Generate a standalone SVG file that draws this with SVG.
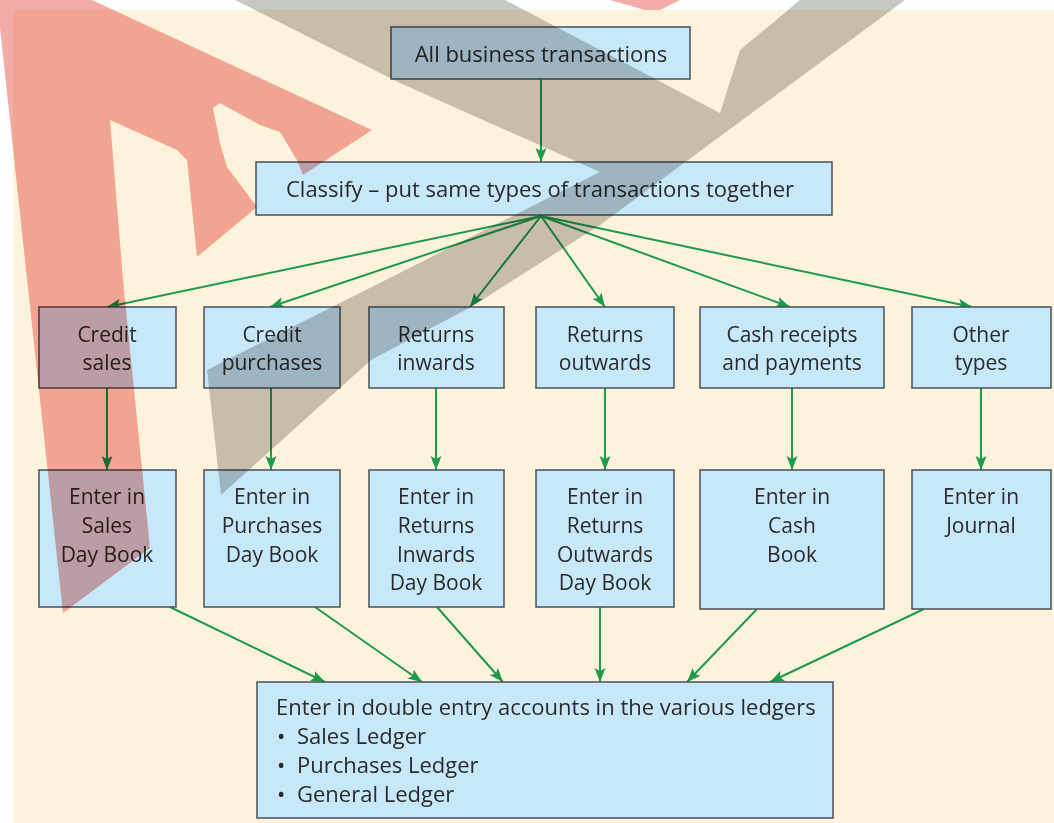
<svg xmlns="http://www.w3.org/2000/svg" width="1054" height="823" viewBox="0 0 1054 823">
<style>
.box{fill:#c6e8fa;stroke:#4a5055;stroke-width:1.5}
.t{font-family:"Open Sans","Liberation Sans",sans-serif;font-size:21px;font-weight:500;fill:#2a2a2a;text-anchor:middle}
.tl{font-family:"Open Sans","Liberation Sans",sans-serif;font-size:22px;font-weight:500;fill:#2a2a2a}
.big{font-size:22px}
.conn{stroke:#1f9a4c;stroke-width:2;fill:none;marker-end:url(#ah)}
.wm{mix-blend-mode:multiply}
</style>
<defs>
<marker id="ah" markerWidth="15" markerHeight="12" refX="14" refY="6" orient="auto" markerUnits="userSpaceOnUse">
<path d="M0,0.5 L14,6 L0,11.5 L3,6 Z" fill="#1f9a4c"/>
</marker>
</defs>
<rect x="0" y="0" width="1054" height="823" fill="#ffffff"/>
<rect x="13" y="10" width="1041" height="813" fill="#fdf3dc"/>

<g id="connectors">
<line class="conn" x1="541" y1="79" x2="541" y2="162"/>
<line class="conn" x1="541" y1="216" x2="107" y2="307"/>
<line class="conn" x1="541" y1="216" x2="270" y2="307"/>
<line class="conn" x1="541" y1="216" x2="470" y2="307"/>
<line class="conn" x1="541" y1="216" x2="605" y2="307"/>
<line class="conn" x1="541" y1="216" x2="790" y2="307"/>
<line class="conn" x1="541" y1="216" x2="972" y2="307"/>
<line class="conn" x1="107" y1="388" x2="107" y2="470"/>
<line class="conn" x1="271" y1="388" x2="271" y2="470"/>
<line class="conn" x1="436" y1="388" x2="436" y2="470"/>
<line class="conn" x1="605" y1="388" x2="605" y2="470"/>
<line class="conn" x1="792" y1="388" x2="792" y2="470"/>
<line class="conn" x1="981" y1="388" x2="981" y2="470"/>
<line class="conn" x1="170" y1="607" x2="325" y2="682"/>
<line class="conn" x1="315" y1="607" x2="422" y2="682"/>
<line class="conn" x1="437" y1="607" x2="503" y2="682"/>
<line class="conn" x1="600" y1="607" x2="600" y2="682"/>
<line class="conn" x1="757" y1="609" x2="687" y2="682"/>
<line class="conn" x1="924" y1="609" x2="770" y2="682"/>
</g>

<g id="n-all">
<rect class="box" x="391" y="27" width="299" height="52"/>
<text class="t big" x="541" y="62">All business transactions</text>
</g>
<g id="n-classify">
<rect class="box" x="256" y="162" width="576" height="53"/>
<text class="t big" x="540" y="197">Classify – put same types of transactions together</text>
</g>

<g id="n-credit-sales">
<rect class="box" x="39" y="307" width="137" height="81"/>
<text class="t" x="107" y="342">Credit</text>
<text class="t" x="107" y="370">sales</text>
</g>
<g id="n-credit-purchases">
<rect class="box" x="204" y="307" width="136" height="81"/>
<text class="t" x="272" y="342">Credit</text>
<text class="t" x="272" y="370">purchases</text>
</g>
<g id="n-returns-inwards">
<rect class="box" x="369" y="307" width="135" height="81"/>
<text class="t" x="436" y="342">Returns</text>
<text class="t" x="436" y="370">inwards</text>
</g>
<g id="n-returns-outwards">
<rect class="box" x="536" y="307" width="138" height="81"/>
<text class="t" x="605" y="342">Returns</text>
<text class="t" x="605" y="370">outwards</text>
</g>
<g id="n-cash">
<rect class="box" x="700" y="307" width="184" height="81"/>
<text class="t" x="792" y="342">Cash receipts</text>
<text class="t" x="792" y="370">and payments</text>
</g>
<g id="n-other">
<rect class="box" x="912" y="307" width="139" height="81"/>
<text class="t" x="981" y="342">Other</text>
<text class="t" x="981" y="370">types</text>
</g>

<g id="n-sales-day-book">
<rect class="box" x="39" y="470" width="137" height="137"/>
<text class="t" x="107" y="504">Enter in</text>
<text class="t" x="107" y="533">Sales</text>
<text class="t" x="107" y="562">Day Book</text>
</g>
<g id="n-purchases-day-book">
<rect class="box" x="204" y="470" width="136" height="137"/>
<text class="t" x="272" y="504">Enter in</text>
<text class="t" x="272" y="533">Purchases</text>
<text class="t" x="272" y="562">Day Book</text>
</g>
<g id="n-returns-inwards-day-book">
<rect class="box" x="369" y="470" width="135" height="137"/>
<text class="t" x="436" y="504">Enter in</text>
<text class="t" x="436" y="533">Returns</text>
<text class="t" x="436" y="562">Inwards</text>
<text class="t" x="436" y="590">Day Book</text>
</g>
<g id="n-returns-outwards-day-book">
<rect class="box" x="536" y="470" width="138" height="137"/>
<text class="t" x="605" y="504">Enter in</text>
<text class="t" x="605" y="533">Returns</text>
<text class="t" x="605" y="562">Outwards</text>
<text class="t" x="605" y="590">Day Book</text>
</g>
<g id="n-cash-book">
<rect class="box" x="700" y="470" width="184" height="139"/>
<text class="t" x="792" y="504">Enter in</text>
<text class="t" x="792" y="533">Cash</text>
<text class="t" x="792" y="562">Book</text>
</g>
<g id="n-journal">
<rect class="box" x="912" y="470" width="139" height="139"/>
<text class="t" x="981" y="504">Enter in</text>
<text class="t" x="981" y="533">Journal</text>
</g>

<g id="n-ledgers">
<rect class="box" x="257" y="682" width="576" height="136"/>
<text class="tl" x="276" y="715">Enter in double entry accounts in the various ledgers</text>
<text class="tl" y="744"><tspan x="277">•</tspan><tspan x="297">Sales Ledger</tspan></text>
<text class="tl" y="773"><tspan x="277">•</tspan><tspan x="297">Purchases Ledger</tspan></text>
<text class="tl" y="802"><tspan x="277">•</tspan><tspan x="297">General Ledger</tspan></text>
</g>

<g id="watermark" class="wm">
<polygon fill="#f2aca8" points="-3,0 92,0 372,130 303,175 297,160 280,132 260,125 227,107 220,103 213,108 220,143 227,167 257,207 197,257 187,160 177,150 110,120 123,280 150,548 63,613"/>
<polygon fill="#f2aca8" points="610,0 680,0 660,10 645,10"/>
<polygon fill="#c9c7c4" points="235,0 505,0 720,113 740,50 800,0 905,0 600,225 471,307 371,360 221,495 207,370 600,172 400,83"/>
</g>
</svg>
